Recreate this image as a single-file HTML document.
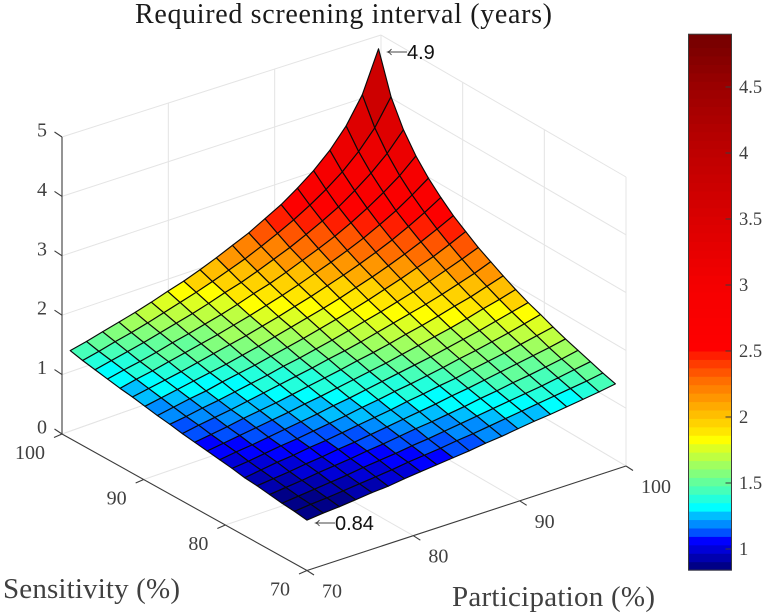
<!DOCTYPE html>
<html lang="en">
<head>
<meta charset="utf-8">
<title>Required screening interval (years)</title>
<style>
html,body{margin:0;padding:0;background:#fff;width:764px;height:615px;overflow:hidden}
svg{display:block}
text{font-family:"Liberation Serif",serif;fill:#404040}
</style>
</head>
<body>
<svg id="chart" xmlns="http://www.w3.org/2000/svg" width="764" height="615" viewBox="0 0 764 615">
  <g id="grid"></g>
  <g id="surface"></g>
  <g id="axes"></g>
  <g id="colorbar"></g>
  <text x="135" y="23" font-size="28" style="fill:#1a1a1a" textLength="417" lengthAdjust="spacing">Required screening interval (years)</text>
  <text x="3" y="598" font-size="29" textLength="177" lengthAdjust="spacing">Sensitivity (%)</text>
  <text x="452" y="606" font-size="29" textLength="203" lengthAdjust="spacing">Participation (%)</text>
  <g fill="none" stroke="#444" stroke-width="0.9">
    <path d="M388 52H407M391.5 49Q390 51.2 387.5 52Q390 52.8 391.5 55"/>
  </g>
  <text x="407" y="59" font-size="20" style="font-family:'Liberation Sans',sans-serif;fill:#111">4.9</text>
  <g fill="none" stroke="#444" stroke-width="0.9">
    <path d="M316 523H335M319.5 520Q318 522.2 315.5 523Q318 523.8 319.5 526"/>
  </g>
  <text x="335" y="530" font-size="20" style="font-family:'Liberation Sans',sans-serif;fill:#111">0.84</text>
</svg>
<script>
var participationGrid = [70,71.53,73.05,74.58,76.11,77.63,79.16,80.68,82.21,83.74,85.26,86.79,88.32,89.84,91.37,92.89,94.42,95.95,97.47,99];
var sensitivityGrid = [70,71.53,73.05,74.58,76.11,77.63,79.16,80.68,82.21,83.74,85.26,86.79,88.32,89.84,91.37,92.89,94.42,95.95,97.47,99];
var intervalYears = [
[0.84,0.87,0.89,0.92,0.95,0.97,1.01,1.04,1.07,1.10,1.13,1.17,1.20,1.24,1.28,1.31,1.35,1.39,1.43,1.48],
[0.87,0.90,0.92,0.95,0.98,1.01,1.04,1.08,1.11,1.14,1.18,1.21,1.25,1.29,1.33,1.37,1.41,1.45,1.49,1.54],
[0.89,0.92,0.95,0.98,1.01,1.05,1.08,1.11,1.15,1.18,1.22,1.26,1.30,1.34,1.38,1.42,1.46,1.51,1.56,1.61],
[0.92,0.95,0.98,1.02,1.05,1.08,1.12,1.15,1.19,1.23,1.26,1.30,1.34,1.39,1.43,1.48,1.52,1.57,1.62,1.68],
[0.95,0.98,1.01,1.05,1.08,1.12,1.15,1.19,1.23,1.27,1.31,1.35,1.40,1.44,1.49,1.54,1.59,1.64,1.69,1.75],
[0.97,1.01,1.05,1.08,1.12,1.15,1.19,1.23,1.27,1.31,1.36,1.40,1.45,1.49,1.55,1.60,1.65,1.71,1.77,1.83],
[1.01,1.04,1.08,1.12,1.15,1.19,1.23,1.27,1.32,1.36,1.41,1.45,1.50,1.55,1.61,1.66,1.72,1.78,1.85,1.92],
[1.04,1.08,1.11,1.15,1.19,1.23,1.27,1.32,1.36,1.41,1.46,1.51,1.56,1.61,1.67,1.73,1.79,1.86,1.93,2.00],
[1.07,1.11,1.15,1.19,1.23,1.27,1.32,1.36,1.41,1.46,1.51,1.56,1.62,1.68,1.74,1.80,1.87,1.95,2.02,2.10],
[1.10,1.14,1.18,1.23,1.27,1.31,1.36,1.41,1.46,1.51,1.57,1.62,1.68,1.75,1.81,1.88,1.96,2.03,2.12,2.21],
[1.13,1.18,1.22,1.26,1.31,1.36,1.41,1.46,1.51,1.57,1.62,1.68,1.75,1.82,1.89,1.96,2.04,2.13,2.22,2.33],
[1.17,1.21,1.26,1.30,1.35,1.40,1.45,1.51,1.56,1.62,1.68,1.75,1.82,1.89,1.97,2.05,2.14,2.24,2.34,2.45],
[1.20,1.25,1.30,1.34,1.40,1.45,1.50,1.56,1.62,1.68,1.75,1.82,1.89,1.97,2.06,2.15,2.25,2.35,2.47,2.60],
[1.24,1.29,1.34,1.39,1.44,1.49,1.55,1.61,1.68,1.75,1.82,1.89,1.97,2.06,2.15,2.25,2.36,2.48,2.61,2.75],
[1.28,1.33,1.38,1.43,1.49,1.55,1.61,1.67,1.74,1.81,1.89,1.97,2.06,2.15,2.25,2.36,2.48,2.62,2.77,2.94],
[1.31,1.37,1.42,1.48,1.54,1.60,1.66,1.73,1.80,1.88,1.96,2.05,2.15,2.25,2.36,2.48,2.62,2.77,2.95,3.15],
[1.35,1.41,1.46,1.52,1.59,1.65,1.72,1.79,1.87,1.96,2.04,2.14,2.25,2.36,2.48,2.62,2.78,2.96,3.16,3.41],
[1.39,1.45,1.51,1.57,1.64,1.71,1.78,1.86,1.95,2.03,2.13,2.24,2.35,2.48,2.62,2.77,2.96,3.17,3.42,3.74],
[1.43,1.49,1.56,1.62,1.69,1.77,1.85,1.93,2.02,2.12,2.22,2.34,2.47,2.61,2.77,2.95,3.16,3.42,3.74,4.19],
[1.48,1.54,1.61,1.68,1.75,1.83,1.92,2.00,2.10,2.21,2.33,2.45,2.60,2.75,2.94,3.15,3.41,3.74,4.19,4.90]
];
var zTicks = [0,1,2,3,4,5];
var zTickLabels = ["0","1","2","3","4","5"];
var sensitivityTicks = [70,80,90,100];
var sensitivityTickLabels = ["70","80","90","100"];
var participationTicks = [70,80,90,100];
var participationTickLabels = ["70","80","90","100"];
var colorbarTicks = [1,1.5,2,2.5,3,3.5,4,4.5];
var colorbarTickLabels = ["1","1.5","2","2.5","3","3.5","4","4.5"];
var lowBandColors = ["#000087","#0000af","#0000d7","#0000ff","#0050ff","#008cff","#00beff","#00ffff","#23ffdc","#46ffb9","#64ff9b","#82ff7d","#a0ff5f","#beff41","#dcff23","#ffff00","#ffe600","#ffd200","#ffbe00","#ffaa00","#ff9600","#ff8200","#ff6e00","#ff5500","#ff3c00","#ff1e00"];
var redLevelValues = [2.5,3,3.5,4,4.5,4.9];
var redLevels = [255,245,218,190,155,115];

var SVGNS = "http://www.w3.org/2000/svg";
var colorMin = 0.84;
var colorSplit = 2.5;
var colorMax = 4.9;

function shape(parent, tag, attrs) {
  var el = document.createElementNS(SVGNS, tag);
  for (var k in attrs) el.setAttribute(k, attrs[k]);
  parent.appendChild(el);
  return el;
}
function project(p, s, z) {
  var u = (p - 70) / 30, v = (s - 70) / 30;
  var scale = 60 - 2.2 * u - 0.6 * v;
  return [307 + 319 * u - 245 * v,
          570.5 - 104.5 * u - 136.5 * v - 8.5 * u * v - z * scale];
}
function colorFor(z) {
  if (z < colorSplit) {
    var n = lowBandColors.length;
    var idx = Math.floor((z - colorMin) / (colorSplit - colorMin) * n);
    return lowBandColors[Math.max(0, Math.min(n - 1, idx))];
  }
  for (var i = 0; i < redLevelValues.length - 1; i++) {
    if (z <= redLevelValues[i + 1]) {
      var t = (z - redLevelValues[i]) / (redLevelValues[i + 1] - redLevelValues[i]);
      return "rgb(" + Math.round(redLevels[i] + t * (redLevels[i + 1] - redLevels[i])) + ",0,0)";
    }
  }
  return "rgb(" + redLevels[redLevels.length - 1] + ",0,0)";
}
function barY(z) { return 549 - (z - 1) * 132; }

var gridG = document.getElementById("grid");
var surfG = document.getElementById("surface");
var axesG = document.getElementById("axes");
var barG = document.getElementById("colorbar");

function gridLine(a, b, name) {
  var el = shape(gridG, "line", {x1:a[0], y1:a[1], x2:b[0], y2:b[1], stroke:"#e4e4e4", "stroke-width":1});
  
  
}
zTicks.forEach(function (z) {
  gridLine(project(70,100,z), project(100,100,z), "back-wall-gridline-z" + z);
  gridLine(project(100,100,z), project(100,70,z), "side-wall-gridline-z" + z);
});
participationTicks.forEach(function (p) {
  gridLine(project(p,100,0), project(p,100,5), "back-wall-gridline-participation-" + p);
  gridLine(project(p,70,0), project(p,100,0), "floor-gridline-participation-" + p);
});
sensitivityTicks.forEach(function (s) {
  gridLine(project(100,s,0), project(100,s,5), "side-wall-gridline-sensitivity-" + s);
  gridLine(project(70,s,0), project(100,s,0), "floor-gridline-sensitivity-" + s);
});

for (var i = sensitivityGrid.length - 2; i >= 0; i--) {
  for (var j = participationGrid.length - 2; j >= 0; j--) {
    var pts = [
      project(participationGrid[j], sensitivityGrid[i], intervalYears[i][j]),
      project(participationGrid[j + 1], sensitivityGrid[i], intervalYears[i][j + 1]),
      project(participationGrid[j + 1], sensitivityGrid[i + 1], intervalYears[i + 1][j + 1]),
      project(participationGrid[j], sensitivityGrid[i + 1], intervalYears[i + 1][j])
    ];
    var cell = shape(surfG, "polygon", {
      points: pts.map(function (q) { return q[0].toFixed(2) + "," + q[1].toFixed(2); }).join(" "),
      fill: colorFor(intervalYears[i][j]),
      stroke: "#0a0a0a",
      "stroke-width": 1.15,
      "stroke-linejoin": "round"
    });
    
    
  }
}

function axisLine(a, b, name) {
  var el = shape(axesG, "line", {x1:a[0], y1:a[1], x2:b[0], y2:b[1], stroke:"#3c3c3c", "stroke-width":1.1});
  
  
}
function axisText(x, y, str, anchor, name) {
  var el = shape(axesG, "text", {x:x, y:y, "font-size":20, "text-anchor":anchor});
  el.textContent = str;
  
  
}
axisLine(project(70,100,0), project(70,100,5), "z-axis-line");
axisLine(project(70,70,0), project(70,100,0), "sensitivity-axis-line");
axisLine(project(70,70,0), project(100,70,0), "participation-axis-line");
zTicks.forEach(function (z, n) {
  var t = project(70,100,z);
  axisLine(t, [t[0] - 7.5, t[1] - 5], "z-tick");
  axisText(42, t[1] - 0.5, zTickLabels[n], "middle", "z-tick-label");
});
sensitivityTicks.forEach(function (s, n) {
  var t = project(70,s,0);
  axisLine(t, [t[0] - 8, t[1] + 3.5], "sensitivity-tick");
  axisText(t[0] - 17, t[1] + 25, sensitivityTickLabels[n], "end", "sensitivity-tick-label");
});
participationTicks.forEach(function (p, n) {
  var t = project(p,70,0);
  axisLine(t, [t[0] + 7, t[1] + 4.5], "participation-tick");
  axisText(t[0] + 15, t[1] + 27, participationTickLabels[n], "start", "participation-tick-label");
});

var bandStep = (colorSplit - colorMin) / lowBandColors.length;
for (var bandLow = colorMin; bandLow < colorMax - 1e-6; bandLow += bandStep) {
  var bandHigh = Math.min(bandLow + bandStep, colorMax);
  var band = shape(barG, "rect", {
    x: 688.5, width: 43,
    y: barY(bandHigh).toFixed(2),
    height: (barY(bandLow) - barY(bandHigh) + 0.5).toFixed(2),
    fill: colorFor(bandLow + bandStep / 2)
  });
  
  
}
var frame = shape(barG, "rect", {x:688.5, y:barY(colorMax), width:43, height:barY(colorMin) - barY(colorMax), fill:"none", stroke:"#3c3c3c", "stroke-width":1});


colorbarTicks.forEach(function (v, n) {
  var tick = shape(barG, "line", {x1:725.5, x2:731.5, y1:barY(v), y2:barY(v), stroke:"#3c3c3c", "stroke-width":1});
  
  
  var lab = shape(barG, "text", {x:739, y:barY(v) + 6, "font-size":18.5});
  lab.textContent = colorbarTickLabels[n];
  
  
});
</script>
</body>
</html>
